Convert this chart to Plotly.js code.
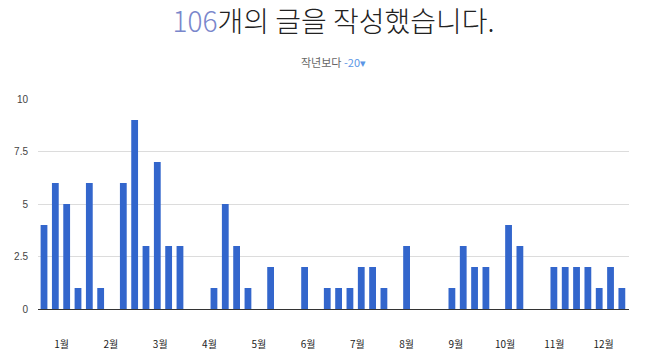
<!DOCTYPE html>
<html>
<head>
<meta charset="utf-8">
<script src="https://cdn.plot.ly/plotly-3.0.1.min.js"></script>
<style>html,body{margin:0;padding:0;background:#fff;}#chart{width:650px;height:362px;}</style>
</head>
<body>
<div id="chart"></div>
<script>
// Weekly post counts (52 weeks)
const weeklyPosts = [4,6,5,1,6,1,0,6,9,3,7,3,3,0,0,1,5,3,1,0,2,0,0,2,0,1,1,1,2,2,1,0,3,0,0,0,1,3,2,2,0,4,3,0,0,2,2,2,2,1,2,1];
const monthLabels = ['1월','2월','3월','4월','5월','6월','7월','8월','9월','10월','11월','12월'];
const totalPosts = '106';
const changeText = '-20▾';
const yTicks = [0, 2.5, 5, 7.5, 10];
const yTickLabels = ['0','2.5','5','7.5','10'];

const weeks = weeklyPosts.map((_, i) => i);
const weeksPerMonth = 365.25 / 12 / 7;
const monthPos = monthLabels.map((_, i) => 1.56 + i * weeksPerMonth);

const trace = {
  type: 'bar',
  x: weeks,
  y: weeklyPosts,
  marker: {color: '#3366cc', line: {width: 0}},
  hoverinfo: 'x+y'
};

const layout = {
  width: 650, height: 362,
  margin: {l: 38, r: 21, t: 99, b: 53},
  paper_bgcolor: '#fff', plot_bgcolor: '#fff',
  bargap: 0.4,
  showlegend: false,
  title: {
    text: '<span style="color:#7986cb">' + totalPosts + '</span>개의 글을 작성했습니다.',
    font: {family: '"Noto Sans CJK KR", "Noto Sans", sans-serif', size: 28, color: '#222', weight: 300},
    x: 0.5, xref: 'paper', xanchor: 'center',
    y: 1 - 22/362, yref: 'container', yanchor: 'middle'
  },
  annotations: [{
    text: '<span style="color:#666">작년보다 </span><span style="color:#5b95e6">' + changeText + '</span>',
    xref: 'paper', yref: 'paper', x: 0.5, y: (309 - 62) / 210 , xanchor: 'center', yanchor: 'middle',
    showarrow: false,
    font: {family: '"Noto Sans CJK KR", sans-serif', size: 11, color: '#666'}
  }],
  xaxis: {
    range: [-0.53, 51.63],
    tickmode: 'array', tickvals: monthPos, ticktext: monthLabels,
    ticks: 'outside', ticklen: 26, tickcolor: 'rgba(0,0,0,0)',
    showgrid: false, zeroline: false, showline: false,
    tickfont: {family: '"Noto Sans CJK KR", sans-serif', size: 10, color: '#222'},
    fixedrange: true
  },
  yaxis: {
    range: [0, 10],
    tickmode: 'array', tickvals: yTicks, ticktext: yTickLabels,
    ticks: 'outside', ticklen: 7, tickcolor: 'rgba(0,0,0,0)',
    showgrid: true, gridcolor: '#dcdcdc', gridwidth: 1,
    zeroline: true, zerolinecolor: '#333', zerolinewidth: 1,
    showline: false,
    tickfont: {family: '"Liberation Sans", Arial, sans-serif', size: 10, color: '#444'},
    fixedrange: true
  }
};

Plotly.newPlot('chart', [trace], layout, {displayModeBar: false, staticPlot: true});
</script>
</body>
</html>
